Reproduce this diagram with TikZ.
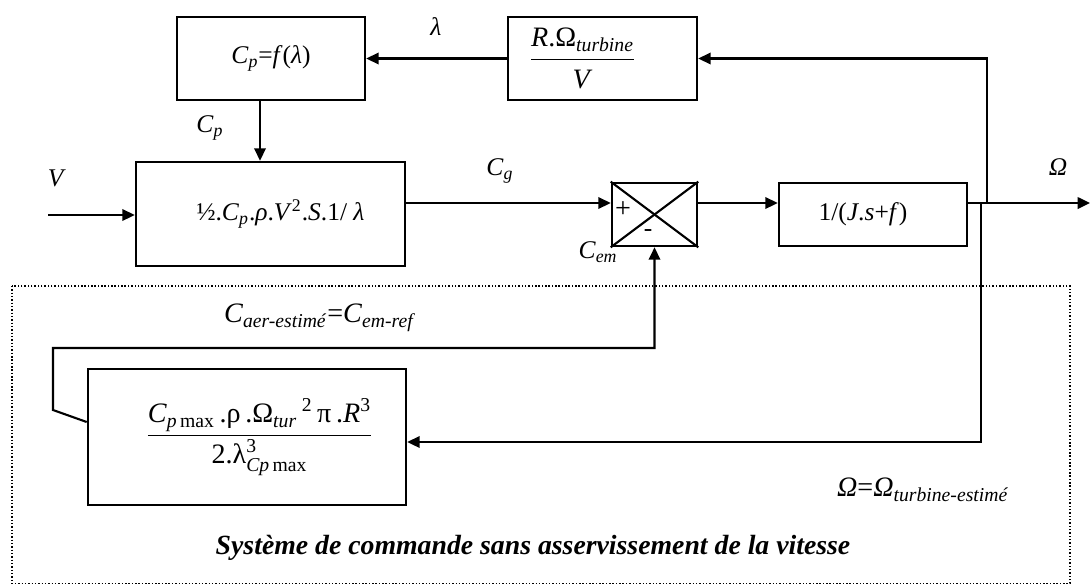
\documentclass[tikz,border=0pt]{standalone}
\usepackage{amsmath}
\usepackage{fontspec}
\setmainfont{Liberation Serif}
\usetikzlibrary{
  arrows.meta,
  positioning,
}
\tikzset{
  block/.style = {
    draw,
    line width=1.5pt,
    inner sep=0pt,
    align=center
  },
  conn/.style = {
    line width=1.2pt,
    -{Triangle[length=7pt,width=6.5pt]}
  },
  wire/.style = {
    line width=1.2pt
  },
  lbl/.style = {
    inner sep=1pt
  },
  frame/.style = {
    line width=0.8pt,
    dash pattern=on 0.8pt off 1.1pt
  },
}

\begin{document}
\begin{tikzpicture}[x=0.02cm, y=-0.02cm, font=\fontsize{14.5}{17}\selectfont]
  \useasboundingbox (0,0) rectangle (1092,585);
  %% blocks
  \node (cpf) [block, minimum width=3.76cm, minimum height=1.66cm] at (271,58.5)
      {\textit{C}\textsubscript{\textit{p}}=\textit{f}(\textit{λ})};
  \node (ratio) [block, minimum width=3.78cm, minimum height=1.66cm, font=\fontsize{16}{18}\selectfont] at (602.5,58.5)
      {$\dfrac{\text{\textit{R}.Ω\textsubscript{\textit{turbine}}}}{\text{\textit{V}}}$\hspace*{0.8cm}};
  \node (aero) [block, minimum width=5.38cm, minimum height=2.08cm] at (270.5,214)
      {\hspace*{0.4cm}½.\textit{C}\textsubscript{\textit{p}}.\textit{ρ}.\textit{V}\textsuperscript{2}.\textit{S}.1/ \textit{λ}};
  \node (sum) [block, minimum width=1.70cm, minimum height=1.26cm] at (654.5,214.5) {};
  \node (plant) [block, minimum width=3.76cm, minimum height=1.26cm] at (873,214.5)
      {1/(\textit{J}.\textit{s}+\textit{f})\hspace*{0.4cm}};
  \node (estim) [block, minimum width=6.36cm, minimum height=2.72cm, font=\fontsize{16}{19}\selectfont] at (247,437)
      {\hspace*{0.5cm}$\dfrac{\text{\textit{C}$_{\text{\textit{p}\,max}}$\,.ρ\,.Ω$_{\text{\textit{tur}}}$\,$^{\text{2}}$\,π\,.\textit{R}$^{\text{3}}$}}{\text{2.λ$^{\text{3}}_{\text{\textit{Cp}\,max}}$}}$};
  \draw[wire] (sum.north west) -- (sum.south east);
  \draw[wire] (sum.south west) -- (sum.north east);
  \node (plus) [lbl, font=\fontsize{16}{18}\selectfont] at (623,210) {+};
  \node (minus) [lbl] at (648,233) {-};
  %% control frame
  \draw[frame] (12,286) rectangle (1070,583.5);
  %% points
  \coordinate (mo) at (0,203);
  \coordinate (vin) at (48,215);
  \coordinate (out) at (1090,203);
  \coordinate (fbup) at (987,203);
  \coordinate (fbdn) at (981,203);
  \coordinate (cemin) at (0,442);
  \coordinate (bend1) at (53,410);
  \coordinate (bend2) at (53,348);
  %% connectors
  \draw[conn] (vin) -- (aero.west |- vin);
  \draw[conn] ([xshift=-0.22cm]cpf.south) -- ([xshift=-0.22cm]cpf.south |- aero.north);
  \draw[conn] (ratio.west) -- (cpf.east);
  \draw[conn] (aero.east |- mo) -- (sum.west |- mo);
  \draw[conn] (sum.east |- mo) -- (plant.west |- mo);
  \draw[conn] (plant.east |- mo) -- (out);
  \draw[conn] (fbup) |- (ratio.east);
  \draw[conn] (fbdn) -- (fbdn |- cemin) -- (estim.east |- cemin);
  \draw[conn] ([yshift=0.3cm]estim.west) -- (bend1) -- (bend2) -| (sum.south);
  %% labels
  \node (lbl-lambda) [lbl] at (436,27) {\textit{λ}};
  \node (lbl-cp) [lbl] at (210,128) {\textit{C}\textsubscript{\textit{p}}};
  \node (lbl-v) [lbl] at (57,178) {\textit{V}};
  \node (lbl-cg) [lbl] at (500,171) {\textit{C}\textsubscript{\textit{g}}};
  \node (lbl-cem) [lbl] at (598,252) {\textit{C}\textsubscript{\textit{em}}};
  \node (lbl-omega) [lbl] at (1058,167) {\textit{Ω}};
  \node (lbl-caer) [lbl, font=\fontsize{16}{18}\selectfont] at (320,318)
      {\textit{C}\textsubscript{\textit{aer-estimé}}=\textit{C}\textsubscript{\textit{em-ref}}};
  \node (lbl-omest) [lbl, font=\fontsize{16}{18}\selectfont] at (923,490) {\textit{Ω}=\textit{Ω}\textsubscript{\textit{turbine-estimé}}};
  \node (title) [lbl, font=\fontsize{15.8}{18}\selectfont\bfseries\itshape] at (533,548)
      {Système de commande sans asservissement de la vitesse};
\end{tikzpicture}
\end{document}
